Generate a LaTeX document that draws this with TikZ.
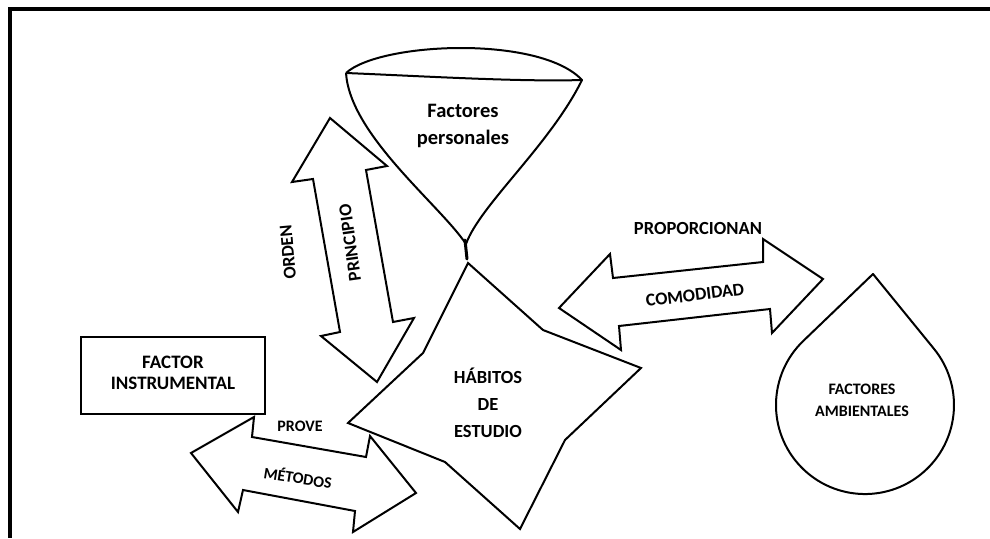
\documentclass[tikz,border=0pt]{standalone}
\usepackage{fontspec}
\setmainfont{Carlito}
\begin{document}
\begin{tikzpicture}[x=1pt,y=-1pt,
  shape line/.style={draw=black,line width=2pt,line join=miter},
  lbl/.style={inner sep=0pt,align=center,font=\fontsize{18}{27}\selectfont\bfseries},
  lblsmall/.style={inner sep=0pt,align=center,font=\fontsize{16}{22}\selectfont\bfseries}]
\useasboundingbox (0,0) rectangle (990,538);
% frame
\draw[line width=3.3pt,line join=miter] (990,9) -- (10,9) -- (10,538);
% funnel
\draw[shape line,line join=round] (346,73) .. controls (380,42) and (540,35) .. (582,80)
  .. controls (520,82) and (420,76) .. (346,73);
\draw[shape line,line join=round] (346,73) .. controls (350,135) and (440,205) .. (466,244)
  .. controls (480,205) and (550,145) .. (582,80);
\draw[line width=3pt,line cap=round] (465,240) -- (467,259);
% vertical double arrow
\draw[shape line] (330,118) -- (387,166) -- (366,170) -- (393,322) -- (414,318)
  -- (377,382) -- (321,336) -- (340,332) -- (313,179) -- (292,182) -- cycle;
% horizontal double arrow
\draw[shape line] (559,308) -- (610,254) -- (613,278) -- (763,262) -- (763,239)
  -- (823,279) -- (772,333) -- (770,309) -- (619,326) -- (621,350) -- cycle;
% lower double arrow
\draw[shape line] (191,453) -- (254,417) -- (252,437) -- (366,457) -- (370,436)
  -- (416,493) -- (353,532) -- (355,511) -- (243,490) -- (238,512) -- cycle;
% star
\draw[shape line] (468,263) -- (543,330) -- (641,368) -- (565,440) -- (520,529)
  -- (445,462) -- (348,423) -- (423,353) -- cycle;
% drop
\draw[shape line,line join=round] (873,274) -- (803.5,340.7)
  arc[start angle=226.3,end angle=-39.3,radius=89] -- cycle;
% box
\draw[shape line] (81,337) rectangle (265,414);
% labels
\node[lbl,font=\fontsize{20.5}{27}\selectfont\bfseries] (fp) at (463,125.5) {Factores\\personales};
\node[lbl,rotate=95] (orden) at (288,252) {ORDEN};
\node[lbl,rotate=98] (principio) at (350,243) {PRINCIPIO};
\node[lbl,font=\fontsize{18.5}{27}\selectfont\bfseries] (prop) at (698,228) {PROPORCIONAN};
\node[lbl,rotate=7] (comod) at (695,295) {COMODIDAD};
\node[lbl,font=\fontsize{19}{21}\selectfont\bfseries] (fi) at (173,372.5) {FACTOR\\INSTRUMENTAL};
\node[lblsmall] (prove) at (300,426) {PROVE};
\node[lblsmall,rotate=-9] (metodos) at (298,477) {MÉTODOS};
\node[lbl,font=\fontsize{18.5}{27}\selectfont\bfseries] (habitos) at (488,403) {HÁBITOS\\DE\\ESTUDIO};
\node[lblsmall] (fa) at (862,400) {FACTORES\\AMBIENTALES};
\end{tikzpicture}
\end{document}
